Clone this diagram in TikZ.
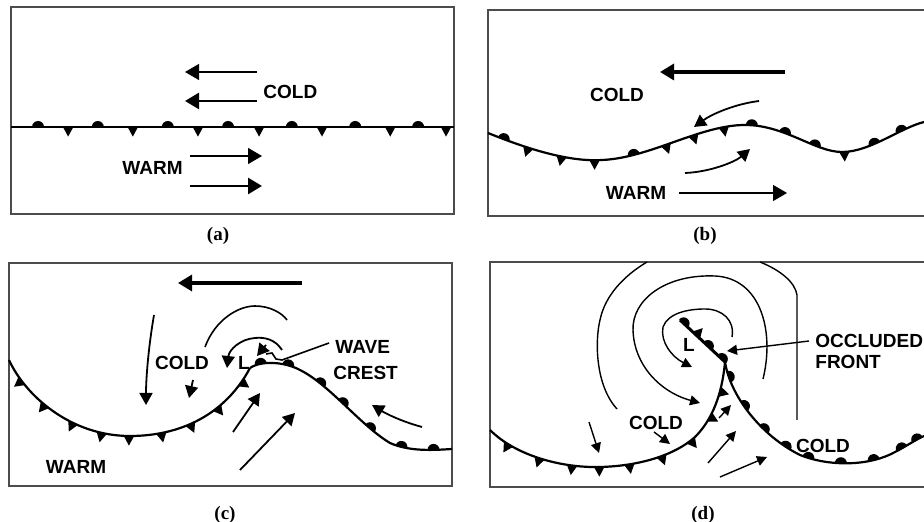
\documentclass[tikz,border=0pt]{standalone}
\usepackage{fontspec}
\setmainfont{Liberation Serif}
\setsansfont{Liberation Sans}
\usetikzlibrary{arrows.meta,decorations.markings}

\tikzset{
  box/.style={draw=black!70,line width=1pt},
  front/.style={line width=1.1pt},
  isobar/.style={line width=.7pt},
  lbl/.style={font=\sffamily\bfseries\fontsize{9.5}{10}\selectfont,inner sep=0pt},
  plabel/.style={font=\rmfamily\bfseries\fontsize{9.5}{10}\selectfont,inner sep=0pt},
  big flow/.style={-{Triangle[length=7pt,width=8pt]}},
  flow/.style={line width=.9pt,-{Triangle[length=6pt,width=6.5pt]}},
  dflow/.style={line width=.7pt,-{Triangle[length=5pt,width=5pt]}},
  warm/.style={postaction={decorate,decoration={markings,mark=at position #1 with
    {\fill (-3pt,0pt) arc[start angle=180,end angle=0,radius=3pt] -- cycle;}}}},
  cold/.style={postaction={decorate,decoration={markings,mark=at position #1 with
    {\fill (-2.6pt,0pt) -- (2.6pt,0pt) -- (0pt,-4.8pt) -- cycle;}}}},
  occl/.style={postaction={decorate,decoration={markings,mark=at position #1 with
    {\fill (-2.6pt,0pt) -- (2.6pt,0pt) -- (0pt,4.8pt) -- cycle;}}}},
}

\begin{document}
\begin{tikzpicture}[x=.5pt,y=-.5pt]
\fill[white] (0,0) rectangle (924,522);
\useasboundingbox (0,0) rectangle (924,522);

% (a)
\draw[box] (11,7) rectangle (454,214);
\draw[front,warm/.list={.061,.196,.354,.49,.634,.777,.919},cold/.list={.129,.275,.422,.56,.702,.856,.982}] (11,127) -- (454,127);
\draw[big flow,line width=.6pt] (257,72) -- (185,72);
\draw[big flow,line width=1.3pt] (257,101) -- (185,101);
\node[lbl,anchor=west] (acold) at (263,92) {COLD};
\draw[big flow,line width=.6pt] (190,156) -- (262,156);
\draw[big flow,line width=1.3pt] (190,186) -- (262,186);
\node[lbl,anchor=east] (awarm) at (183,168) {WARM};
\node[plabel] (la) at (218,236) {(a)};

% (b)
\draw[box] (924,10) -- (488,10) -- (488,216) -- (924,216);
\draw[front,warm/.list={.037,.33,.599,.674,.745,.881,.947},cold/.list={.094,.17,.243,.404,.468,.537,.812}]
  (488,133) .. controls (530,150) and (570,162) .. (602,160) .. controls (650,158) and (700,125) .. (745,125)
  .. controls (785,125) and (815,152) .. (842,152) .. controls (870,152) and (900,128) .. (924,122);
\draw[big flow,line width=1.6pt] (785,72) -- (660,72);
\node[lbl] (bcold) at (617,95) {COLD};
\draw[flow] (759,101) .. controls (735,104) and (712,114) .. (694,127);
\draw[flow] (685,173) .. controls (710,172) and (735,162) .. (750,149);
\node[lbl] (bwarm) at (636,193) {WARM};
\draw[big flow,line width=.7pt] (679,193) -- (787,193);
\node[plabel] (lb) at (705,236) {(b)};

% (c)
\draw[box] (9,263) rectangle (452,486);
\draw[big flow,line width=1.6pt] (302,283) -- (178,283);
\draw[front,cold/.list={.083,.196,.309,.412,.505,.615,.718,.824,.944}]
  (9,360) .. controls (25,395) and (70,436) .. (130,436) .. controls (180,436) and (225,415) .. (250,368);
\draw[front,warm/.list={.05,.17,.33,.46,.62,.78,.92}]
  (250,368) .. controls (262,360) and (285,362) .. (300,370) .. controls (330,385) and (360,425) .. (390,443)
  .. controls (410,452) and (435,450) .. (452,449);
\node[lbl] (ccold) at (182,363) {COLD};
\node[lbl] (cl) at (244,363) {L};
\node[lbl,anchor=west] (wave) at (335,347) {WAVE};
\node[lbl,anchor=west] (crest) at (333,373) {CREST};
\draw[line width=.8pt] ([xshift=-3pt,yshift=2pt]wave.west) -- (282,360) -- (276,359) -- (272,353) -- (266,354);
\node[lbl] (cwarm) at (76,467) {WARM};
\draw[flow] (154,315) .. controls (148,350) and (146,380) .. (146,405);
\draw[flow] (193,380) -- (189,398);
\draw[line width=.8pt] (205,347) .. controls (215,320) and (238,306) .. (255,306) .. controls (270,306) and (282,313) .. (287,320);
\draw[flow] (282,350) .. controls (275,339) and (264,337) .. (255,338) .. controls (240,339) and (229,350) .. (227,368);
\draw[flow] (266,345) -- (257,356);
\draw[flow] (233,432) -- (260,393);
\draw[flow] (240,470) -- (295,413);
\draw[flow] (422,427) .. controls (400,421) and (385,413) .. (372,405);
\node[plabel] (lc) at (225,515) {(c)};

% (d)
\draw[box] (924,262) -- (490,262) -- (490,487) -- (924,487);
\draw[isobar] (617,409) .. controls (595,385) and (595,340) .. (600,320) .. controls (605,295) and (625,275) .. (647,262);
\draw[isobar] (760,262) .. controls (780,270) and (795,282) .. (797,295) -- (797,420);
\draw[isobar,dflow] (763,379) .. controls (775,330) and (760,278) .. (715,276) .. controls (665,274) and (632,300) .. (633,330)
  .. controls (634,365) and (660,392) .. (700,403);
\draw[isobar,dflow] (732,337) .. controls (735,320) and (722,309) .. (705,309) .. controls (688,309) and (668,313) .. (663,327)
  .. controls (660,342) and (672,357) .. (692,367);
\draw[front,line width=1.5pt,warm/.list={.08,.62,.93},occl/.list={.36}] (680,320) -- (725,362);
\draw[front,cold/.list={.077,.19,.3,.39,.49,.6,.71,.81,.9}]
  (490,430) .. controls (515,455) and (560,468) .. (600,467) .. controls (640,466) and (675,455) .. (695,437)
  .. controls (712,420) and (722,395) .. (725,362);
\draw[front,warm/.list={.06,.19,.31,.42,.52,.65,.78,.9,.97}]
  (725,362) .. controls (730,395) and (760,435) .. (800,455) .. controls (830,467) and (870,466) .. (895,452)
  .. controls (905,447) and (915,440) .. (924,436);
\node[lbl] (dl) at (689,345) {L};
\node[lbl,anchor=west] (occ) at (815,341) {OCCLUDED};
\node[lbl,anchor=west] (frnt) at (815,362) {FRONT};
\draw[dflow] ([xshift=-3pt]occ.west) -- (727,351);
\node[lbl] (dcoldl) at (656,423) {COLD};
\node[lbl] (dcoldr) at (823,446) {COLD};
\draw[dflow] (589,422) -- (599,453);
\draw[dflow] (654,432) -- (670,444);
\draw[dflow] (719,418) -- (731,405);
\draw[dflow] (708,463) -- (736,431);
\draw[dflow] (720,477) -- (767,457);
\node[plabel] (ld) at (703,515) {(d)};
\end{tikzpicture}
\end{document}
